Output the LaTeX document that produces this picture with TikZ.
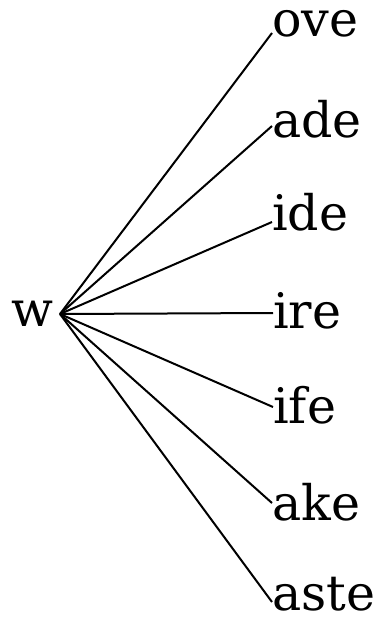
\documentclass[tikz,border=0pt]{standalone}
\usepackage{fontspec}
\setmainfont{DejaVu Serif}
\usepackage{tikz}
\usetikzlibrary{arrows.meta,positioning}

\begin{document}
\begin{tikzpicture}[x=1pt,y=-1pt,
  word/.style={inner sep=0pt,anchor=base west,font=\fontsize{49}{55}\selectfont},
  branch/.style={line width=2pt}]
  \useasboundingbox (0,0) rectangle (383,624);
  \node[word,anchor=base east] (w) at (54,326) {w};
  \coordinate (root) at (60,314);
  \node[word] (ove)  at (272,36)  {ove};
  \node[word] (ade)  at (272,137) {ade};
  \node[word] (ide)  at (272,230) {ide};
  \node[word] (ire)  at (273,328) {ire};
  \node[word] (ife)  at (273,423) {ife};
  \node[word] (ake)  at (272,520) {ake};
  \node[word] (aste) at (272,610) {aste};
  \draw[branch] (root) -- ([yshift=3pt]ove.base west);
  \draw[branch] (root) -- ([yshift=11pt]ade.base west);
  \draw[branch] (root) -- ([yshift=8pt]ide.base west);
  \draw[branch] (root) -- ([yshift=15pt]ire.base west);
  \draw[branch] (root) -- ([yshift=16pt]ife.base west);
  \draw[branch] (root) -- ([yshift=17pt]ake.base west);
  \draw[branch] (root) -- ([yshift=8pt]aste.base west);
\end{tikzpicture}
\end{document}
